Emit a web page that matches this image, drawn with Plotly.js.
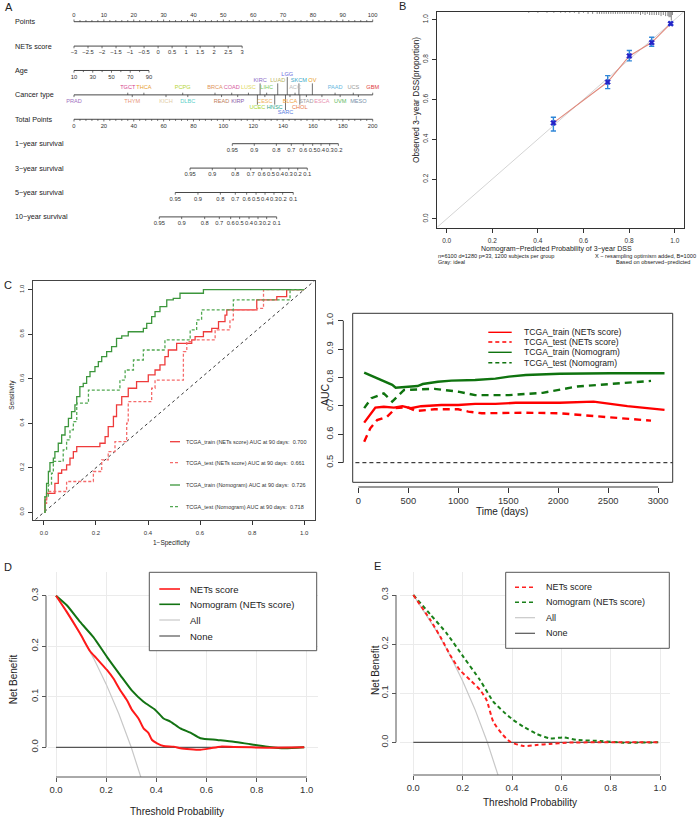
<!DOCTYPE html>
<html><head><meta charset="utf-8">
<script src="https://cdn.plot.ly/plotly-3.0.1.min.js"></script>
<style>html,body{margin:0;padding:0;background:#fff;}#chart{width:697px;height:817px;}</style>
</head><body><div id="chart"></div>
<script>
// ===================== DATA =====================
// Panel A – nomogram
const nomoRowNames = ['Points','NETs score','Age','Cancer type','Total Points',
  '1\u2212year survival','3\u2212year survival','5\u2212year survival','10\u2212year survival'];
const pointsTicks = [0,10,20,30,40,50,60,70,80,90,100];
const netsScoreTicks = [-3,-2.5,-2,-1.5,-1,-0.5,0,0.5,1,1.5,2,2.5,3];
const netsScoreMaxPoints = 56.3;          // points given to NETs score = 3
const ageTicks = [10,30,50,70,90];
const ageMinorTicks = [20,40,60,80];
const ageMaxPoints = 25.1;                // points given to age 90
const cancerTypes = ['PRAD','TGCT','THYM','THCA','KICH','PCPG','DLBC','BRCA','READ','COAD','KIRP','LUSC',
  'UCEC','KIRC','CESC','LIHC','HNSC','LUAD','SARC','LGG','BLCA','ACC','SKCM','CHOL','STAD','OV','ESCA',
  'PAAD','UVM','UCS','MESO','GBM'];
const cancerPoints = [0,18.0,19.5,23.4,30.8,36.4,38.1,47.2,49.4,52.8,54.8,58.4,
  61.4,62.3,63.9,64.5,67.2,68.2,70.8,71.4,72.3,74.0,75.3,75.6,77.8,79.8,83.0,
  87.4,89.1,93.5,95.2,100];
const totalPointsTicks = [0,20,40,60,80,100,120,140,160,180,200];
const survProbLabels = ['0.95','0.9','0.8','0.7','0.6','0.5','0.4','0.3','0.2','0.1'];
const surv1yTotalPoints = [106.0,120.7,135.5,145.5,153.5,159.8,165.4,171.2,177.0];
const surv3yTotalPoints = [77.7,92.6,108.0,118.3,125.7,131.9,137.9,143.8,149.8,156.2];
const surv5yTotalPoints = [67.8,83.0,98.0,108.0,115.6,121.9,127.9,133.9,139.7,146.8];
const surv10yTotalPoints = [57.1,72.1,87.5,97.3,104.9,110.9,117.2,123.2,129.0,135.7];

// Panel B – calibration
const calPredicted = [0.468,0.706,0.801,0.899,0.982];
const calObserved  = [0.482,0.687,0.818,0.885,0.980];
const calLower     = [0.441,0.654,0.793,0.866,0.973];
const calUpper     = [0.510,0.719,0.845,0.912,0.987];
const rugValues = [0.36,0.40,0.44,0.47,0.50,0.52,0.54,0.56,0.58,0.60,0.62,0.64,0.66,0.67,0.68,0.69,0.70,0.71,
  0.72,0.73,0.74,0.75,0.76,0.77,0.78,0.79,0.80,0.81,0.82,0.83,0.84,0.85,0.86,0.87,0.88,0.89,0.90,0.91,0.92,
  0.93,0.94,0.95,0.96,0.97,0.975,0.98,0.985,0.99];
const rugCounts = [1,1,1,1,1,1,1,1,2,1,2,2,2,2,2,2,2,2,
  2,2,2,2,2,2,2,2,2,2,2,2,2,3,2,3,2,3,3,3,3,
  3,4,3,4,4,5,5,8,3];

// Panel C (left) – ROC at 90 days
const rocTrainNetsFpr = [0,0.004,0.01,0.036,0.042,0.055,0.068,0.087,0.1,0.113,0.126,0.215,0.235,0.247,0.267,0.279,0.299,0.324,0.356,0.401,0.427,0.446,0.465,0.478,0.51,0.568,0.581,0.613,0.645,0.671,0.696,0.703,0.792,0.818,0.856,0.895,0.933,1];
const rocTrainNetsTpr = [0,0.055,0.085,0.085,0.13,0.175,0.19,0.213,0.243,0.272,0.295,0.31,0.34,0.385,0.43,0.482,0.519,0.557,0.587,0.617,0.639,0.662,0.699,0.729,0.759,0.774,0.789,0.811,0.826,0.856,0.886,0.909,0.909,0.954,0.954,0.969,1,1];
const rocTestNetsFpr = [0,0.004,0.01,0.087,0.19,0.222,0.247,0.273,0.318,0.324,0.414,0.427,0.536,0.549,0.568,0.658,0.715,0.728,0.818,0.844,1];
const rocTestNetsTpr = [0,0.04,0.093,0.138,0.183,0.235,0.272,0.317,0.4,0.497,0.557,0.594,0.722,0.766,0.774,0.819,0.864,0.909,0.916,1,1];
const rocTrainNomoFpr = [0,0.004,0.01,0.017,0.023,0.036,0.042,0.055,0.068,0.081,0.094,0.106,0.119,0.126,0.138,0.151,0.164,0.177,0.196,0.209,0.222,0.241,0.26,0.279,0.299,0.324,0.382,0.395,0.414,0.427,0.446,0.472,0.497,0.523,0.613,1];
const rocTrainNomoTpr = [0,0.07,0.13,0.183,0.223,0.243,0.272,0.31,0.347,0.385,0.422,0.452,0.482,0.519,0.564,0.579,0.609,0.632,0.654,0.677,0.699,0.722,0.744,0.781,0.792,0.811,0.826,0.849,0.879,0.901,0.924,0.954,0.961,0.984,1,1];
const rocTestNomoFpr = [0,0.004,0.017,0.029,0.036,0.074,0.087,0.1,0.113,0.126,0.171,0.292,0.312,0.344,0.382,0.465,0.562,0.587,0.606,0.728,0.946,1];
const rocTestNomoTpr = [0,0.07,0.123,0.175,0.228,0.28,0.325,0.37,0.407,0.49,0.549,0.594,0.639,0.684,0.729,0.774,0.819,0.864,0.909,0.954,1,1];
const rocLegendNames = ['TCGA_train (NETs score)','TCGA_test (NETs score)','TCGA_train (Nomogram)','TCGA_test (Nomogram)'];
const aucAt90Days = ['0.700','0.661','0.726','0.718'];

// Panel C (right) – time-dependent AUC
const trainNetsDays = [58,170,254,356,440,525,627,830,999,1168,1371,1575,2015,2354,2692,3064];
const trainNetsAuc  = [0.641,0.694,0.697,0.694,0.699,0.692,0.699,0.703,0.703,0.707,0.707,0.711,0.711,0.715,0.699,0.686];
const testNetsDays  = [58,119,187,288,373,491,576,762,999,1100,1236,1676,2015,2354,2692,2929];
const testNetsAuc   = [0.574,0.621,0.650,0.662,0.692,0.695,0.682,0.688,0.688,0.680,0.674,0.676,0.674,0.664,0.656,0.648];
const trainNomoDays = [58,152,254,339,373,491,593,644,796,931,1168,1371,1507,1676,1845,2015,2523,3064];
const trainNomoAuc  = [0.817,0.803,0.788,0.774,0.764,0.768,0.770,0.777,0.785,0.789,0.791,0.796,0.803,0.809,0.812,0.813,0.815,0.815];
const testNomoDays  = [58,130,254,339,457,627,762,999,1168,1507,1845,2184,2523,2929];
const testNomoAuc   = [0.692,0.727,0.744,0.715,0.756,0.758,0.760,0.750,0.738,0.738,0.746,0.768,0.776,0.788];
const timeTickLabels = ['0','500','1000','1500','2000','2500','3000'];
const timeTickValues = [0,500,1000,1500,2000,2500,3000];

// Panels D & E – decision curves
const allThreshold = [0,0.1,0.15,0.2,0.25,0.3,0.35];
const allNetBenefit = [0.3,0.222,0.176,0.125,0.067,0,-0.077];
const noneThreshold = [0,0.99];
const noneNetBenefit = [0,0];
const dTrainNetsThr = [0,0.043,0.096,0.136,0.16,0.176,0.203,0.229,0.256,0.283,0.303,0.329,0.349,0.369,0.383,0.403,0.429,0.469,0.496,0.536,0.576,0.616,0.656,0.709,0.843,0.99];
const dTrainNetsNB  = [0.3,0.268,0.225,0.190,0.177,0.168,0.153,0.136,0.113,0.093,0.074,0.057,0.0375,0.028,0.0145,0.0079,0.0026,0.0013,-0.002,-0.004,-0.005,-0.002,0.0013,0.0007,-0.0007,0];
const dTrainNomoThr = [0,0.043,0.096,0.149,0.203,0.256,0.303,0.349,0.396,0.429,0.456,0.496,0.536,0.576,0.643,0.709,0.776,0.843,0.909,0.99];
const dTrainNomoNB  = [0.3,0.281,0.248,0.218,0.179,0.143,0.112,0.09,0.074,0.057,0.051,0.0375,0.029,0.018,0.0145,0.011,0.006,0.0013,-0.002,0];
const eTestNetsThr = [0,0.068,0.115,0.149,0.189,0.23,0.27,0.297,0.324,0.358,0.392,0.446,0.5,0.554,0.622,0.757,0.993];
const eTestNetsNB  = [0.3,0.250,0.210,0.178,0.147,0.127,0.107,0.086,0.042,0.018,0.0014,-0.0075,-0.0054,-0.0034,-0.0007,0,0];
const eTestNomoThr = [0,0.068,0.135,0.203,0.27,0.324,0.365,0.405,0.446,0.5,0.554,0.608,0.662,0.757,0.851,0.993];
const eTestNomoNB  = [0.3,0.261,0.222,0.174,0.127,0.083,0.0625,0.0455,0.032,0.017,0.008,0.01,0.0048,0.0027,-0.0007,0];
const dcaLegendNames = ['NETs score','Nomogram (NETs score)','All','None'];

// ===================== STYLE / LAYOUT CONFIG =====================
const cancerLabelTier = [-1,1,-1,1,-1,1,-1,1,-1,1,-1,1,-2,2,-1,1,-2,2,-3,3,-1,1,2,-2,-1,2,-1,1,-1,1,-1,1];
const cancerColors = ['#a070c0','#d63c8c','#e8967a','#e8a030','#e2cca6','#b5d433','#5ccfc9','#e09560','#c08060',
  '#d65c9e','#8c5ca8','#e0d860','#a6d62e','#8c6cc8','#f0b060','#7ccc5c','#2ea68c','#b8b45c','#5c7ce0','#6a6ae0',
  '#f0a040','#bbbbbb','#36a8c8','#e87848','#a0a0a0','#e89a1e','#e890b0','#66b8e0','#5cb85c','#999999','#7890a8','#e04040'];

const W = 697, H = 817;
const FONT = 'Liberation Sans, Arial, Helvetica, sans-serif';
const xd = (l, r) => [l / W, r / W];
const yd = (t, b) => [1 - b / H, 1 - t / H];
const traces = [];
const shapes = [];
const annotations = [];
function ann(text, x, y, size, opt) {
  return Object.assign({text: text, xref: 'paper', yref: 'paper', x: x / W, y: 1 - y / H,
    xanchor: 'center', yanchor: 'middle', showarrow: false, borderpad: 0,
    font: {size: size, color: '#222', family: FONT}}, opt || {});
}
function seg(ax, ay, x0, y0, x1, y1) { ax.push(x0, x1, null); ay.push(y0, y1, null); }

// ===================== PANEL A: nomogram =====================
const u = 1 / 24.4; // one pixel in row units
const axX = [], axY = [], tkX = [], tkY = [];
const lbX = [], lbY = [], lbT = [];
function lab(x, y, t) { lbX.push(x); lbY.push(y); lbT.push(t); }
const fmt = v => (v < 0 ? '\u2212' : '') + Math.abs(v);
const lin = (v, lo, hi, pHi) => (v - lo) / (hi - lo) * pHi;

seg(axX, axY, 0, 0, 100, 0);
pointsTicks.forEach(v => { seg(tkX, tkY, v, 0, v, -2.2 * u); lab(v, -6.6 * u, String(v)); });
for (let v = 2; v < 100; v += 2) if (v % 10) seg(tkX, tkY, v, 0, v, -1.6 * u);
seg(axX, axY, 0, 1, netsScoreMaxPoints, 1);
netsScoreTicks.forEach(v => { const p = lin(v, -3, 3, netsScoreMaxPoints);
  seg(tkX, tkY, p, 1, p, 1 + 2.2 * u); lab(p, 1 + 6.8 * u, fmt(v)); });
seg(axX, axY, 0, 2, ageMaxPoints, 2);
ageTicks.forEach(v => { const p = lin(v, 10, 90, ageMaxPoints);
  seg(tkX, tkY, p, 2, p, 2 + 2.2 * u); lab(p, 2 + 6.8 * u, String(v)); });
ageMinorTicks.forEach(v => { const p = lin(v, 10, 90, ageMaxPoints); seg(tkX, tkY, p, 2, p, 2 + 1.6 * u); });
seg(axX, axY, 0, 3, 100, 3);
const aboveOff = [7.3, 14, 20.3], belowOff = [6.7, 12.3, 17.7];
const lineLenAbove = [2.2, 11.5, 17.8], lineLenBelow = [2.2, 9.8, 15.2];
const cX = [], cY = [];
cancerTypes.forEach((c, i) => {
  const p = cancerPoints[i], t = cancerLabelTier[i];
  if (t > 0) { seg(tkX, tkY, p, 3, p, 3 - lineLenAbove[t - 1] * u); cX.push(p); cY.push(3 - aboveOff[t - 1] * u); }
  else { seg(tkX, tkY, p, 3, p, 3 + lineLenBelow[-t - 1] * u); cX.push(p); cY.push(3 + belowOff[-t - 1] * u); }
});
seg(axX, axY, 0, 4, 100, 4);
totalPointsTicks.forEach(v => { seg(tkX, tkY, v / 2, 4, v / 2, 4 + 2.2 * u); lab(v / 2, 4 + 6.8 * u, String(v)); });
for (let v = 4; v < 200; v += 4) if (v % 20) seg(tkX, tkY, v / 2, 4, v / 2, 4 + 1.6 * u);
[surv1yTotalPoints, surv3yTotalPoints, surv5yTotalPoints, surv10yTotalPoints].forEach((arr, k) => {
  const r = 5 + k;
  seg(axX, axY, arr[0] / 2, r, arr[arr.length - 1] / 2, r);
  arr.forEach((tp, j) => { seg(tkX, tkY, tp / 2, r, tp / 2, r + 2.2 * u); lab(tp / 2, r + 6.8 * u, survProbLabels[j]); });
});
traces.push({x: axX, y: axY, xaxis: 'x', yaxis: 'y', mode: 'lines', line: {color: '#333', width: 0.9}, hoverinfo: 'skip'});
traces.push({x: tkX, y: tkY, xaxis: 'x', yaxis: 'y', mode: 'lines', line: {color: '#333', width: 0.7}, hoverinfo: 'skip'});
traces.push({x: lbX, y: lbY, text: lbT, xaxis: 'x', yaxis: 'y', mode: 'text', cliponaxis: false,
  textfont: {size: 5.8, color: '#333', family: FONT}, textposition: 'middle center', hoverinfo: 'skip'});
traces.push({x: cX, y: cY, text: cancerTypes, xaxis: 'x', yaxis: 'y', mode: 'text', cliponaxis: false,
  textfont: {size: 5.6, color: cancerColors, family: FONT}, textposition: 'middle center', hoverinfo: 'skip'});
nomoRowNames.forEach((n, i) => annotations.push(ann(n, 14, 21.7 + 24.4 * i, 7.2, {xanchor: 'left'})));

// ===================== PANEL B: calibration =====================
traces.push({x: [-0.05, 1.05], y: [-0.05, 1.05], xaxis: 'x2', yaxis: 'y2', mode: 'lines',
  line: {color: '#d4d4d4', width: 1}, hoverinfo: 'skip'});
const rX = [], rY = [];
rugValues.forEach((v, i) => seg(rX, rY, v, 1.045, v, 1.040 - rugCounts[i] * 1.1 / 199.3));
traces.push({x: rX, y: rY, xaxis: 'x2', yaxis: 'y2', mode: 'lines', line: {color: '#333', width: 0.6}, hoverinfo: 'skip'});
traces.push({x: calPredicted, y: calObserved, xaxis: 'x2', yaxis: 'y2', mode: 'lines',
  line: {color: '#e0897c', width: 1.1}, hoverinfo: 'skip'});
traces.push({x: calPredicted, y: calObserved, xaxis: 'x2', yaxis: 'y2', mode: 'markers',
  marker: {symbol: 'x', size: 5, color: '#2424c8', line: {width: 0.5, color: '#2424c8'}},
  error_y: {type: 'data', symmetric: false,
    array: calUpper.map((v, i) => v - calObserved[i]), arrayminus: calLower.map((v, i) => calObserved[i] - v),
    color: '#2f86d8', thickness: 1.4, width: 2.6}, hoverinfo: 'skip'});

// ===================== PANEL C left: ROC =====================
traces.push({x: [-0.05, 1.05], y: [-0.05, 1.05], xaxis: 'x3', yaxis: 'y3', mode: 'lines',
  line: {color: '#222', width: 0.9, dash: 'dot'}, hoverinfo: 'skip'});
const rocStyles = [
  {color: '#ee3b3b', dash: 'solid'}, {color: '#f56b6b', dash: '3px,2px'},
  {color: '#3c963c', dash: 'solid'}, {color: '#52a852', dash: '3px,2px'}];
[[rocTrainNetsFpr, rocTrainNetsTpr], [rocTestNetsFpr, rocTestNetsTpr],
 [rocTrainNomoFpr, rocTrainNomoTpr], [rocTestNomoFpr, rocTestNomoTpr]].forEach((d, i) => {
  traces.push({x: d[0], y: d[1], xaxis: 'x3', yaxis: 'y3', mode: 'lines',
    line: {color: rocStyles[i].color, width: 1.3, dash: rocStyles[i].dash, shape: 'hv'}, hoverinfo: 'skip'});
});
const rocLegRows = [441.7, 462.7, 485, 506.7];
rocLegendNames.forEach((n, i) => {
  shapes.push({type: 'line', xref: 'paper', yref: 'paper', x0: 170 / W, x1: 180 / W, y0: 1 - rocLegRows[i] / H, y1: 1 - rocLegRows[i] / H,
    line: {color: rocStyles[i].color, width: 1.3, dash: rocStyles[i].dash}});
  annotations.push(ann(n + ' AUC at 90 days:  ' + aucAt90Days[i], 185, rocLegRows[i], 5.5, {xanchor: 'left', font: {size: 5.5, color: '#333', family: FONT}}));
});

// ===================== PANEL C right: AUC over time =====================
traces.push({x: [-100, 3300], y: [0.5, 0.5], xaxis: 'x4', yaxis: 'y4', mode: 'lines',
  line: {color: '#111', width: 1, dash: '4px,3px'}, hoverinfo: 'skip'});
const aucStyles = [
  {color: '#ff0000', dash: 'solid'}, {color: '#ff0000', dash: '7px,5px'},
  {color: '#0f730f', dash: 'solid'}, {color: '#0f730f', dash: '7px,5px'}];
[[trainNetsDays, trainNetsAuc], [testNetsDays, testNetsAuc], [trainNomoDays, trainNomoAuc], [testNomoDays, testNomoAuc]]
  .forEach((d, i) => traces.push({x: d[0], y: d[1], xaxis: 'x4', yaxis: 'y4', mode: 'lines',
    line: {color: aucStyles[i].color, width: 2.4, dash: aucStyles[i].dash}, hoverinfo: 'skip'}));
const aucLegRows = [332.3, 342, 352.3, 362.7];
rocLegendNames.forEach((n, i) => {
  shapes.push({type: 'line', xref: 'paper', yref: 'paper', x0: 488.3 / W, x1: 511.7 / W, y0: 1 - aucLegRows[i] / H, y1: 1 - aucLegRows[i] / H,
    line: {color: aucStyles[i].color, width: 1.4, dash: i % 2 ? '4px,3px' : 'solid'}});
  annotations.push(ann(n, 523.3, aucLegRows[i], 8.6, {xanchor: 'left'}));
});
shapes.push({type: 'rect', xref: 'x4 domain', yref: 'y4 domain', x0: 0, x1: 1, y0: 0, y1: 1, line: {color: '#333', width: 1}});
shapes.push({type: 'line', xref: 'paper', yref: 'y4', x0: 343.3 / W, x1: 343.3 / W, y0: 0.5, y1: 1.0, line: {color: '#333', width: 1}});
shapes.push({type: 'line', xref: 'x4', yref: 'paper', x0: 0, x1: 3000, y0: 1 - 487 / H, y1: 1 - 487 / H, line: {color: '#333', width: 1}});

// ===================== PANELS D & E: decision curves =====================
function dca(xa, ya, red, green, dash, redC, greenC) {
  traces.push({x: allThreshold, y: allNetBenefit, xaxis: xa, yaxis: ya, mode: 'lines', line: {color: '#c8c8c8', width: 1.2}, hoverinfo: 'skip'});
  traces.push({x: noneThreshold, y: noneNetBenefit, xaxis: xa, yaxis: ya, mode: 'lines', line: {color: '#555', width: 1.2}, hoverinfo: 'skip'});
  traces.push({x: green[0], y: green[1], xaxis: xa, yaxis: ya, mode: 'lines', line: {color: greenC, width: 2, dash: dash, shape: 'spline', smoothing: 0.6}, hoverinfo: 'skip'});
  traces.push({x: red[0], y: red[1], xaxis: xa, yaxis: ya, mode: 'lines', line: {color: redC, width: 2, dash: dash, shape: 'spline', smoothing: 0.6}, hoverinfo: 'skip'});
}
dca('x5', 'y5', [dTrainNetsThr, dTrainNetsNB], [dTrainNomoThr, dTrainNomoNB], 'solid', '#ff1a1a', '#137313');
dca('x6', 'y6', [eTestNetsThr, eTestNetsNB], [eTestNomoThr, eTestNomoNB], '4px,3px', '#ff2020', '#1a801a');

function dcaLegend(box, lx0, lx1, tx, rows, size, dash, redC, greenC) {
  shapes.push({type: 'rect', xref: 'paper', yref: 'paper', x0: box[0] / W, x1: box[2] / W, y0: 1 - box[3] / H, y1: 1 - box[1] / H,
    line: {color: '#555', width: 1}, fillcolor: '#fff'});
  const cols = [redC, greenC, '#c8c8c8', '#555'];
  dcaLegendNames.forEach((n, i) => {
    shapes.push({type: 'line', xref: 'paper', yref: 'paper', x0: lx0 / W, x1: lx1 / W, y0: 1 - rows[i] / H, y1: 1 - rows[i] / H,
      line: {color: cols[i], width: i < 2 ? 1.6 : 1.2, dash: i < 2 ? dash : 'solid'}});
    annotations.push(ann(n, tx, rows[i], size, {xanchor: 'left'}));
  });
}
dcaLegend([149.3, 572.3, 316.7, 650.7], 159.3, 180, 189.3, [589, 604.3, 620, 636], 9.5, 'solid', '#ff1a1a', '#137313');
dcaLegend([505.7, 572.3, 669.3, 648.3], 515, 535, 545, [587.3, 602.3, 617.7, 633.3], 9, '4px,3px', '#ff2020', '#1a801a');
shapes.push({type: 'line', xref: 'x5', yref: 'paper', x0: 0, x1: 1, y0: 1 - 777 / H, y1: 1 - 777 / H, line: {color: '#555', width: 1}});
shapes.push({type: 'line', xref: 'paper', yref: 'y5', x0: 46 / W, x1: 46 / W, y0: 0, y1: 0.3, line: {color: '#555', width: 1}});
shapes.push({type: 'line', xref: 'x6', yref: 'paper', x0: 0, x1: 1, y0: 1 - 775 / H, y1: 1 - 775 / H, line: {color: '#555', width: 1}});
shapes.push({type: 'line', xref: 'paper', yref: 'y6', x0: 396 / W, x1: 396 / W, y0: 0, y1: 0.3, line: {color: '#555', width: 1}});

// ===================== TITLES / LABELS =====================
annotations.push(ann('A', 4, 7, 11, {xanchor: 'left'}));
annotations.push(ann('B', 398, 6, 11, {xanchor: 'left'}));
annotations.push(ann('C', 3, 285, 11, {xanchor: 'left'}));
annotations.push(ann('D', 3, 567, 11, {xanchor: 'left'}));
annotations.push(ann('E', 373, 566, 11, {xanchor: 'left'}));
annotations.push(ann('Nomogram\u2212Predicted Probability of 3\u2212year DSS', 556.7, 248.7, 7));
annotations.push(ann('Observed 3\u2212year DSS(proportion)', 416, 100, 8.3, {textangle: -90}));
annotations.push(ann('n=6100 d=1280 p=33, 1200 subjects per group', 437, 256.3, 5.6, {xanchor: 'left'}));
annotations.push(ann('X \u2212 resampling optimism added, B=1000', 697, 256.3, 5.6, {xanchor: 'right'}));
annotations.push(ann('Gray: ideal', 437, 261.8, 5.6, {xanchor: 'left'}));
annotations.push(ann('Based on observed\u2212predicted', 691, 261.8, 5.6, {xanchor: 'right'}));
annotations.push(ann('Sensitivity', 11.7, 395, 6.5, {textangle: -90}));
annotations.push(ann('1\u2212Specificity', 171.7, 543.3, 6.5));
annotations.push(ann('AUC', 325, 395, 10.5, {textangle: -90}));
annotations.push(ann('Time (days)', 502.3, 511.7, 10));
annotations.push(ann('Net Benefit', 13.3, 679, 10, {textangle: -90}));
annotations.push(ann('Threshold Probability', 176.7, 811.7, 10));
annotations.push(ann('Net Benefit', 375, 670, 10, {textangle: -90}));
annotations.push(ann('Threshold Probability', 530, 802.7, 10));

// ===================== AXES =====================
const tickF = s => ({size: s, color: '#333', family: FONT});
const base = {showgrid: false, zeroline: false, ticks: 'outside', tickcolor: '#333', fixedrange: true};
const layout = {
  width: W, height: H, margin: {l: 0, r: 0, t: 0, b: 0}, showlegend: false,
  paper_bgcolor: '#fff', plot_bgcolor: 'rgba(0,0,0,0)', font: {family: FONT, color: '#222'},
  xaxis: {domain: xd(0, 380), range: [-24.77, 102.44], visible: false, fixedrange: true, anchor: 'y'},
  yaxis: {domain: yd(0, 232), range: [8.619, -0.889], visible: false, fixedrange: true, anchor: 'x'},
  xaxis2: Object.assign({}, base, {domain: xd(437.3, 684.3), range: [-0.041, 1.042], anchor: 'y2',
    tickvals: [0, 0.2, 0.4, 0.6, 0.8, 1], tickformat: '.1f', ticklen: 4, tickfont: tickF(6.5),
    showline: true, mirror: true, linecolor: '#333', linewidth: 1, ticklabelstandoff: 2}),
  yaxis2: Object.assign({}, base, {domain: yd(11.7, 227.7), range: [-0.044, 1.040], anchor: 'x2',
    tickvals: [0, 0.2, 0.4, 0.6, 0.8, 1], tickformat: '.1f', ticklen: 4, tickfont: tickF(6.5), tickangle: -90,
    showline: true, mirror: true, linecolor: '#333', linewidth: 1, ticklabelstandoff: 2}),
  xaxis3: Object.assign({}, base, {domain: xd(33.3, 314.5), range: [-0.041, 1.040], anchor: 'y3',
    tickvals: [0, 0.2, 0.4, 0.6, 0.8, 1], tickformat: '.1f', ticklen: 4, tickfont: tickF(6),
    showline: true, mirror: true, linecolor: '#444', linewidth: 1, ticklabelstandoff: 3}),
  yaxis3: Object.assign({}, base, {domain: yd(281, 520), range: [-0.035, 1.039], anchor: 'x3',
    tickvals: [0, 0.2, 0.4, 0.6, 0.8, 1], tickformat: '.1f', ticklen: 4, tickfont: tickF(6), tickangle: -90,
    showline: true, mirror: true, linecolor: '#444', linewidth: 1, ticklabelstandoff: 2}),
  xaxis4: Object.assign({}, base, {domain: xd(352.7, 672.7), range: [-57, 3146], anchor: 'free', position: 1 - 487 / H,
    tickvals: timeTickValues, ticktext: timeTickLabels, ticklen: 5, tickfont: tickF(9.3), showline: false}),
  yaxis4: Object.assign({}, base, {domain: yd(313.3, 482.3), range: [0.431, 1.026], anchor: 'free', position: 343.3 / W,
    tickvals: [0.5, 0.6, 0.7, 0.8, 0.9, 1.0], tickformat: '.1f', ticklen: 5, tickfont: tickF(9.3), tickangle: -90, showline: false,
    ticklabelstandoff: 2}),
  xaxis5: Object.assign({}, base, {domain: xd(48, 318), range: [-0.032, 1.045], anchor: 'y5',
    tickvals: [0, 0.2, 0.4, 0.6, 0.8, 1], tickformat: '.1f', ticklen: 4, tickfont: tickF(9.5), tickcolor: '#555',
    showgrid: true, gridcolor: '#ebebeb', gridwidth: 1}),
  yaxis5: Object.assign({}, base, {domain: yd(571.7, 777), range: [-0.0588, 0.3475], anchor: 'free', position: 46 / W,
    tickvals: [0, 0.1, 0.2, 0.3], tickformat: '.1f', ticklen: 4, tickfont: tickF(9.5), tickangle: -90, tickcolor: '#555',
    showgrid: true, gridcolor: '#ebebeb', gridwidth: 1}),
  xaxis6: Object.assign({}, base, {domain: xd(400, 670), range: [-0.054, 1.0405], anchor: 'y6',
    tickvals: [0, 0.2, 0.4, 0.6, 0.8, 1], tickformat: '.1f', ticklen: 4, tickfont: tickF(9.3), tickcolor: '#555',
    showgrid: true, gridcolor: '#ebebeb', gridwidth: 1}),
  yaxis6: Object.assign({}, base, {domain: yd(571.7, 775), range: [-0.0666, 0.3475], anchor: 'free', position: 396 / W,
    tickvals: [0, 0.1, 0.2, 0.3], tickformat: '.1f', ticklen: 4, tickfont: tickF(9.3), tickangle: -90, tickcolor: '#555',
    showgrid: true, gridcolor: '#ebebeb', gridwidth: 1}),
  shapes: shapes, annotations: annotations
};
Plotly.newPlot('chart', traces, layout, {staticPlot: true, displayModeBar: false});
</script></body></html>
